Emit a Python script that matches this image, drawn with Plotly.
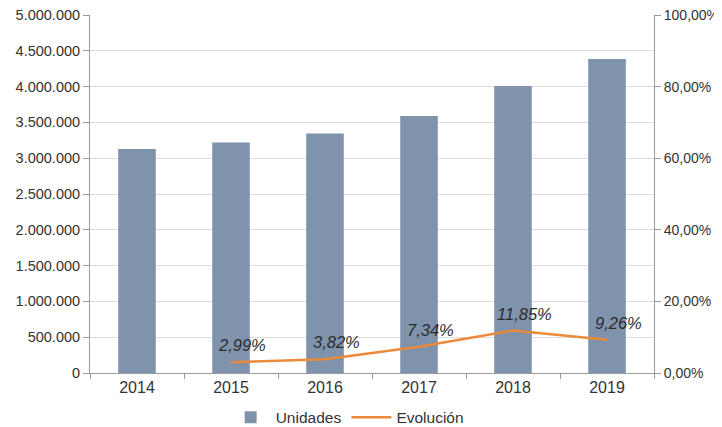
import plotly.graph_objects as go

years = ["2014", "2015", "2016", "2017", "2018", "2019"]
unidades = [3130000, 3220000, 3345000, 3590000, 4010000, 4385000]
evol_years = ["2015", "2016", "2017", "2018", "2019"]
evolucion = [0.0299, 0.0382, 0.0734, 0.1185, 0.0926]
evol_labels = ["2,99%", "3,82%", "7,34%", "11,85%", "9,26%"]

fig = go.Figure()
fig.add_trace(go.Bar(x=years, y=unidades, name="Unidades",
                     marker=dict(color="#7f93ad", line=dict(width=0))))
fig.add_trace(go.Scatter(x=evol_years, y=evolucion, name="Evolución", yaxis="y2",
                         mode="lines", line=dict(color="#ec8a3c", width=2.5)))

for xv, yv, t in zip(evol_years, evolucion, evol_labels):
    fig.add_annotation(x=years.index(xv), y=yv, xref="x", yref="y2", text=t,
                       showarrow=False, xshift=11, yshift=17,
                       font=dict(family="Liberation Sans, Arial", size=16.5,
                                 color="#2b2b2b", style="italic"))

fig.update_layout(
    width=714, height=419,
    margin=dict(l=82, r=68, t=7, b=54, autoexpand=False),
    paper_bgcolor="white", plot_bgcolor="white",
    separators=",.",
    bargap=0.6,
    font=dict(family="Liberation Sans, Arial", size=14, color="#333"),
    showlegend=True,
    legend=dict(orientation="h", x=0.475, xanchor="center", xref="container",
                y=0.022, yanchor="middle", yref="container",
                font=dict(size=15.5), itemwidth=40),
    xaxis=dict(type="category", categoryorder="array", categoryarray=years,
               range=[-0.5, 5.5], showline=True, linecolor="#999", ticks="outside",
               tickson="boundaries", ticklen=5, tickcolor="#999", showgrid=False,
               tickfont=dict(size=16), automargin=False, ticklabeloverflow="allow"),
    yaxis=dict(range=[0, 5000000], dtick=500000, tickformat=",d", showline=True,
               linecolor="#999", ticks="outside", ticklen=6, tickcolor="#999",
               gridcolor="#dcdcdc", zeroline=False, tickfont=dict(size=14.5),
               automargin=False, ticklabeloverflow="allow"),
    yaxis2=dict(range=[0, 1], dtick=0.2, tickformat=".2%", overlaying="y", side="right",
                showline=True, linecolor="#999", ticks="outside", ticklen=6,
                tickcolor="#999", showgrid=False, zeroline=False,
                tickfont=dict(size=14), automargin=False, ticklabeloverflow="allow"),
)

fig.write_html("out.html")
